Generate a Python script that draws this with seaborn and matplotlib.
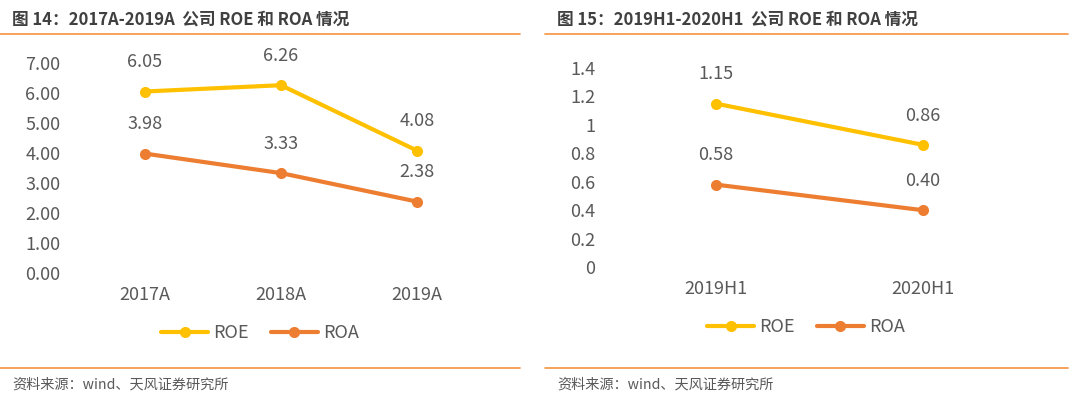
import matplotlib
matplotlib.use('Agg')
import matplotlib.pyplot as plt
from matplotlib.lines import Line2D
import seaborn as sns
import pandas as pd

# data
years_a = ['2017A', '2018A', '2019A']
roe_a = [6.05, 6.26, 4.08]
roa_a = [3.98, 3.33, 2.38]

years_h = ['2019H1', '2020H1']
roe_h = [1.15, 0.86]
roa_h = [0.58, 0.40]

title_a = '图 14：2017A-2019A  公司 ROE 和 ROA 情况'
title_h = '图 15：2019H1-2020H1  公司 ROE 和 ROA 情况'
source = '资料来源：wind、天风证券研究所'

sns.set_theme(style='white')
plt.rcParams['font.family'] = ['Noto Sans CJK SC', 'DejaVu Sans']

GREY = '#595959'
ORANGE_RULE = '#F5923E'
palette = {'ROE': '#FFC000', 'ROA': '#ED7D31'}

W, H = 1080, 396
fig = plt.figure(figsize=(W / 100, H / 100), dpi=100)


def px(x0, y_top, w, h):
    return [x0 / W, (H - y_top - h) / H, w / W, h / H]


def make_long(cats, roe, roa):
    df = pd.DataFrame({'cat': cats, 'ROE': roe, 'ROA': roa})
    df = df.melt(id_vars='cat', var_name='series', value_name='value')
    df['x'] = df['cat'].map({c: i for i, c in enumerate(cats)})
    return df


def draw_panel(ax, cats, roe, roa, ylim, yticks, fmt, legend_y):
    df = make_long(cats, roe, roa)
    sns.lineplot(data=df, x='x', y='value', hue='series', palette=palette,
                 marker='o', markersize=8, markeredgewidth=0, linewidth=3,
                 ax=ax, legend=False)
    # value labels above each point
    for _, r in df.iterrows():
        ax.annotate(format(r['value'], '.2f'), (r['x'], r['value']),
                    xytext=(0, 21), textcoords='offset points',
                    ha='center', va='center', fontsize=13, color=GREY)
    ax.set_xlim(-0.5, len(cats) - 0.5)
    ax.set_ylim(*ylim)
    ax.set_xticks(range(len(cats)))
    ax.set_xticklabels(cats)
    ax.set_yticks(yticks)
    ax.set_yticklabels([fmt(v) for v in yticks])
    ax.tick_params(axis='y', length=0, pad=12, labelsize=13, labelcolor=GREY)
    ax.tick_params(axis='x', length=0, pad=9, labelsize=13, labelcolor=GREY)
    ax.set_xlabel('')
    ax.set_ylabel('')
    for s in ax.spines.values():
        s.set_visible(False)
    ax.patch.set_alpha(0)
    handles = [Line2D([], [], color=palette[k], marker='o', markersize=8,
                      markeredgewidth=0, linewidth=3) for k in ['ROE', 'ROA']]
    ax.legend(handles, ['ROE', 'ROA'], loc='center', ncol=2, frameon=False,
              bbox_to_anchor=legend_y, bbox_transform=fig.transFigure,
              fontsize=13, labelcolor=GREY, handlelength=2.6,
              columnspacing=1.2, handletextpad=0.3)


ax1 = fig.add_axes(px(77, 63, 408, 210))
draw_panel(ax1, years_a, roe_a, roa_a, (0, 7), [0, 1, 2, 3, 4, 5, 6, 7],
           lambda v: f'{v:.2f}', (260 / W, 1 - 333 / H))

ax2 = fig.add_axes(px(612, 68, 414, 199))
draw_panel(ax2, years_h, roe_h, roa_h, (0, 1.4),
           [0, 0.2, 0.4, 0.6, 0.8, 1.0, 1.2, 1.4],
           lambda v: f'{v:g}', (806 / W, 1 - 327 / H))

# headers, rules and source lines
for x0, x1, title in [(0, 520, title_a), (545, 1068, title_h)]:
    fig.text((x0 + 12) / W, 1 - 19 / H, title, ha='left', va='center',
             fontsize=12, fontweight='bold', color='#404040')
    fig.add_artist(Line2D([x0 / W, x1 / W], [1 - 34 / H, 1 - 34 / H],
                          color=ORANGE_RULE, linewidth=1.2))
    fig.add_artist(Line2D([x0 / W, x1 / W], [1 - 368 / H, 1 - 368 / H],
                          color=ORANGE_RULE, linewidth=1.2))
    fig.text((x0 + 12) / W, 1 - 385 / H, source, ha='left', va='center',
             fontsize=10.2, color=GREY)

fig.savefig('out.png', dpi=100)
